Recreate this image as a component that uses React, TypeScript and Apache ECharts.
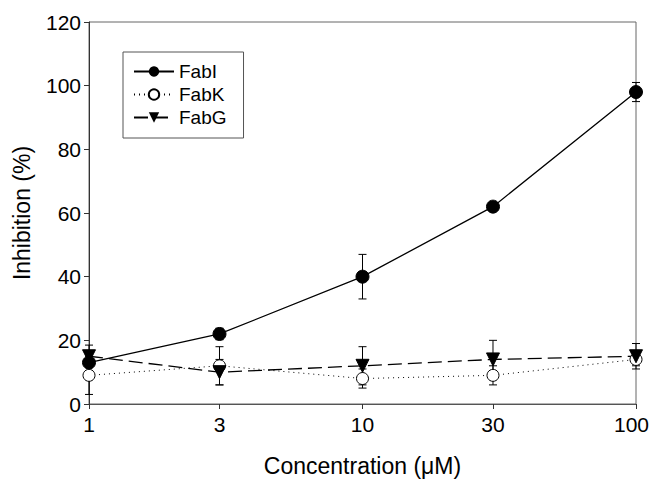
import React, { useEffect, useRef } from "react";
import * as echarts from "echarts";

const concentrations = [1, 3, 10, 30, 100];
const fabI = [13, 22, 40, 62, 98];
const fabIErr = [1, 1.8, 7, 0.8, 3];
const fabK = [9, 12, 8, 9, 14];
const fabKErr = [6, 6, 3, 3, 2];
const fabG = [15, 10, 12, 14, 15];
const fabGErr = [3.5, 4, 6, 6, 4];
const yTicks = [0, 20, 40, 60, 80, 100, 120];

const FONT = "Liberation Sans, Arial, sans-serif";

function pts(vals: number[]) {
  return concentrations.map((c, i) => [c, vals[i]]);
}
function errs(vals: number[], e: number[]) {
  return concentrations.map((c, i) => [c, vals[i] - e[i], vals[i] + e[i]]);
}

function errorSeries(name: string, vals: number[], e: number[]) {
  return {
    type: "custom",
    name: name + "-err",
    data: errs(vals, e),
    encode: { x: 0, y: [1, 2] },
    z: 1,
    silent: true,
    renderItem: (params: any, api: any) => {
      const x = api.value(0);
      const lo = api.coord([x, api.value(1)]);
      const hi = api.coord([x, api.value(2)]);
      const w = 4;
      const style = { stroke: "#000", lineWidth: 1 };
      return {
        type: "group",
        children: [
          { type: "line", shape: { x1: lo[0], y1: lo[1], x2: hi[0], y2: hi[1] }, style },
          { type: "line", shape: { x1: lo[0] - w, y1: lo[1], x2: lo[0] + w, y2: lo[1] }, style },
          { type: "line", shape: { x1: hi[0] - w, y1: hi[1], x2: hi[0] + w, y2: hi[1] }, style },
        ],
      };
    },
  };
}

export default function App() {
  const ref = useRef<HTMLDivElement>(null);
  useEffect(() => {
    const chart = echarts.init(ref.current!, null, { renderer: "svg" });
    const lastX = concentrations[concentrations.length - 1];
    chart.setOption({
      animation: false,
      backgroundColor: "#fff",
      textStyle: { fontFamily: FONT },
      grid: {
        left: 89,
        right: 14,
        top: 22,
        bottom: 79,
        show: true,
        borderColor: "#666",
        borderWidth: 1,
        containLabel: false,
        outerBoundsMode: "none",
      },
      legend: {
        orient: "vertical",
        left: 123,
        top: 52,
        data: ["FabI", "FabK", "FabG"],
        itemWidth: 40,
        itemHeight: 13,
        itemGap: 4,
        padding: [10, 17, 11, 10],
        borderColor: "#555",
        borderWidth: 1,
        textStyle: { fontSize: 19, color: "#000", fontFamily: FONT },
      },
      xAxis: {
        type: "log",
        logBase: 10,
        min: 1,
        max: 100,
        name: "Concentration (\u03bcM)",
        nameLocation: "middle",
        nameGap: 50,
        nameTextStyle: { fontSize: 23, color: "#000", fontFamily: FONT },
        axisLine: { lineStyle: { color: "#555", width: 1 } },
        axisTick: { show: true, inside: false, length: 5, customValues: concentrations, lineStyle: { color: "#333" } },
        axisLabel: {
          fontSize: 21,
          color: "#000",
          margin: 10,
          customValues: concentrations,
          fontFamily: FONT,
          formatter: (v: number) => (v === lastX ? `{m|${v}}` : `${v}`),
          rich: { m: { fontSize: 21, color: "#000", fontFamily: FONT, padding: [0, 9, 0, 0] } },
        },
        splitLine: { show: false },
        minorTick: { show: false },
      },
      yAxis: {
        type: "value",
        min: 0,
        max: 120,
        interval: 20,
        name: "Inhibition (%)",
        nameLocation: "middle",
        nameGap: 56,
        nameTextStyle: { fontSize: 23, color: "#000", fontFamily: FONT },
        axisLine: { show: true, lineStyle: { color: "#333", width: 1 } },
        axisTick: { show: true, inside: false, length: 5, lineStyle: { color: "#333" } },
        axisLabel: { fontSize: 21, color: "#000", margin: 8, fontFamily: FONT, customValues: yTicks },
        splitLine: { show: false },
      },
      series: [
        errorSeries("FabI", fabI, fabIErr),
        errorSeries("FabK", fabK, fabKErr),
        errorSeries("FabG", fabG, fabGErr),
        {
          type: "line",
          name: "FabI",
          data: pts(fabI),
          symbol: "circle",
          symbolSize: 13,
          z: 3,
          itemStyle: { color: "#000", borderColor: "#000" },
          lineStyle: { color: "#000", width: 1.3, type: "solid" },
        },
        {
          type: "line",
          name: "FabK",
          data: pts(fabK),
          symbol: "circle",
          symbolSize: 12,
          z: 3,
          itemStyle: { color: "#fff", borderColor: "#000", borderWidth: 1 },
          lineStyle: { color: "#000", width: 1, type: [1, 4] },
        },
        {
          type: "line",
          name: "FabG",
          data: pts(fabG),
          symbol: "triangle",
          symbolRotate: 180,
          symbolSize: 13,
          z: 3,
          itemStyle: { color: "#000", borderColor: "#000" },
          lineStyle: { color: "#000", width: 1.3, type: [14, 6] },
        },
      ],
    });
    return () => chart.dispose();
  }, []);
  return <div ref={ref} style={{ width: 650, height: 483, position: "absolute", left: 0, top: 0 }} />;
}
